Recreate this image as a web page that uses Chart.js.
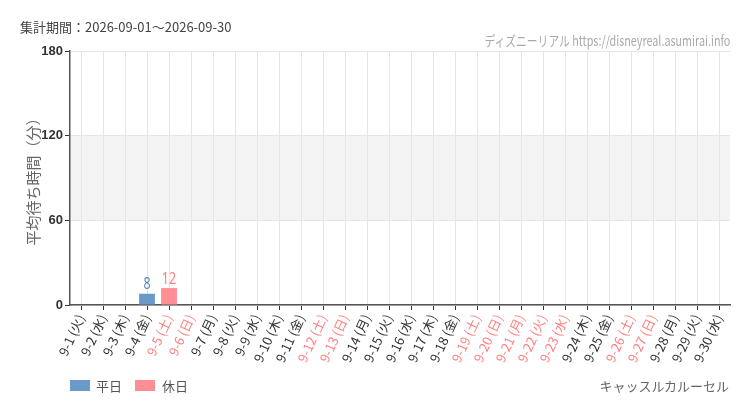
<!DOCTYPE html>
<html>
<head>
<meta charset="utf-8">
<script src="https://cdn.jsdelivr.net/npm/chart.js@4"></script>
<style>
  body { margin: 0; background: #fff; font-family: "Noto Sans CJK JP", "Noto Sans", sans-serif; }
  #wrap { position: relative; width: 750px; height: 410px; }
  .txt { position: absolute; white-space: nowrap; }
  #period { left: 20px; top: 17px; font-size: 13px; color: #444; }
  #site { right: 20px; top: 30px; font-size: 14px; color: #aaa; transform: scaleX(0.77); transform-origin: right center; }
  #attr { right: 21px; top: 376px; font-size: 13px; color: #666; }
  .leg { position: absolute; top: 380px; width: 20px; height: 11px; }
  .legt { position: absolute; top: 376px; font-size: 13px; color: #555; }
</style>
</head>
<body>
<div id="wrap">
  <canvas id="waitChart" width="750" height="410"></canvas>
  <div class="txt" id="period">集計期間：2026-09-01～2026-09-30</div>
  <div class="txt" id="site">ディズニーリアル https://disneyreal.asumirai.info</div>
  <div class="txt" id="attr">キャッスルカルーセル</div>
  <div class="leg" style="left:70px;background:#6a9ac8"></div>
  <div class="legt" style="left:96px">平日</div>
  <div class="leg" style="left:135px;background:#ff8f94"></div>
  <div class="legt" style="left:162px">休日</div>
</div>
<script>
// data
var days = ['9-1 (火)', '9-2 (水)', '9-3 (木)', '9-4 (金)', '9-5 (土)', '9-6 (日)', '9-7 (月)', '9-8 (火)',
  '9-9 (水)', '9-10 (木)', '9-11 (金)', '9-12 (土)', '9-13 (日)', '9-14 (月)', '9-15 (火)', '9-16 (水)',
  '9-17 (木)', '9-18 (金)', '9-19 (土)', '9-20 (日)', '9-21 (月)', '9-22 (火)', '9-23 (水)', '9-24 (木)',
  '9-25 (金)', '9-26 (土)', '9-27 (日)', '9-28 (月)', '9-29 (火)', '9-30 (水)'];
var holidays = [0, 0, 0, 0, 1, 1, 0, 0, 0, 0, 0, 1, 1, 0, 0, 0, 0, 0, 1, 1, 1, 1, 1, 0, 0, 1, 1, 0, 0, 0];
var weekdayWait = [null, null, null, 8, null, null, null, null, null, null, null, null, null, null, null,
  null, null, null, null, null, null, null, null, null, null, null, null, null, null, null];
var holidayWait = [null, null, null, null, 12, null, null, null, null, null, null, null, null, null, null,
  null, null, null, null, null, null, null, null, null, null, null, null, null, null, null];
var yTicks = [0, 60, 120, 180];

// grey band between 60 and 120
var bandPlugin = {
  id: 'band',
  beforeDraw: function (chart) {
    var a = chart.chartArea, y = chart.scales.y, ctx = chart.ctx;
    ctx.save();
    ctx.fillStyle = '#f4f4f4';
    ctx.fillRect(a.left, y.getPixelForValue(120), a.right - a.left, y.getPixelForValue(60) - y.getPixelForValue(120));
    ctx.restore();
  }
};

// value labels above bars (narrowed to look condensed)
var valuePlugin = {
  id: 'values',
  afterDatasetsDraw: function (chart) {
    var ctx = chart.ctx;
    chart.data.datasets.forEach(function (ds, i) {
      chart.getDatasetMeta(i).data.forEach(function (bar, j) {
        if (ds.data[j] == null) return;
        ctx.save();
        ctx.translate(bar.x, bar.y - 1);
        ctx.scale(0.78, 1);
        ctx.font = '16px "Noto Sans", sans-serif';
        ctx.textAlign = 'center';
        ctx.textBaseline = 'bottom';
        ctx.fillStyle = ds.labelColor;
        ctx.fillText(ds.data[j], 0, 0);
        ctx.restore();
      });
    });
  }
};

new Chart(document.getElementById('waitChart'), {
  type: 'bar',
  data: {
    labels: days,
    datasets: [
      { label: '平日', data: weekdayWait, backgroundColor: '#6a9ac8', labelColor: '#5b8ac0' },
      { label: '休日', data: holidayWait, backgroundColor: '#ff8f94', labelColor: '#ff7b80' }
    ]
  },
  options: {
    responsive: false,
    animation: false,
    layout: { padding: { top: 51, left: 20, right: 20, bottom: 0 } },
    plugins: { legend: { display: false }, tooltip: { enabled: false } },
    scales: {
      x: {
        stacked: true,
        grid: { offset: false, color: '#e6e6e6', tickColor: '#333', tickLength: 5 },
        border: { color: '#555', width: 1.5 },
        ticks: {
          minRotation: 65, maxRotation: 65, autoSkip: false, padding: 2,
          font: { size: 13, family: '"Noto Sans CJK JP", sans-serif' },
          color: function (c) { return holidays[c.index] ? '#ff8080' : '#333'; }
        },
        afterFit: function (s) { s.height = 105; }
      },
      y: {
        min: 0, max: 180,
        afterBuildTicks: function (s) { s.ticks = yTicks.map(function (v) { return { value: v }; }); },
        grid: { color: '#e6e6e6', tickColor: '#333', tickLength: 5 },
        border: { color: '#555', width: 1.5 },
        ticks: { color: '#333', padding: 2, font: { size: 13, weight: 'bold', family: '"Liberation Sans", sans-serif' } },
        title: { display: true, text: '平均待ち時間（分）', color: '#666', font: { size: 15, family: '"Noto Sans CJK JP", sans-serif' } },
        afterFit: function (s) { s.width = 50; }
      }
    }
  },
  plugins: [bandPlugin, valuePlugin]
});
</script>
</body>
</html>
